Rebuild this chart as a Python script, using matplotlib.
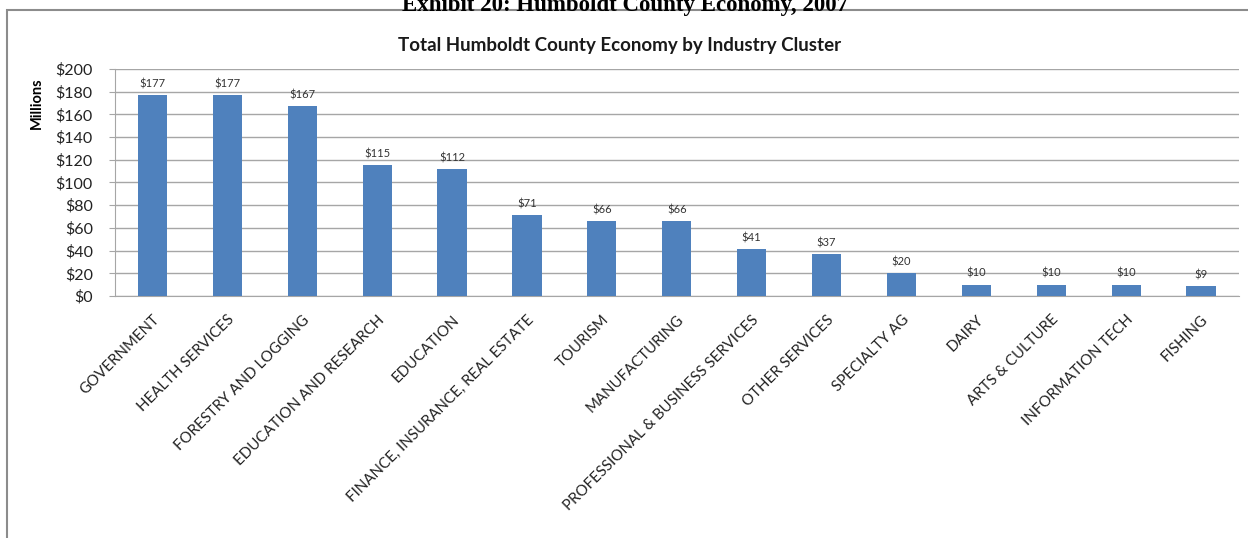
import numpy as np
import matplotlib.pyplot as plt
from matplotlib.patches import Rectangle

# industry clusters and their size (millions of dollars)
clusters = ['GOVERNMENT', 'HEALTH SERVICES', 'FORESTRY AND LOGGING',
            'EDUCATION AND RESEARCH', 'EDUCATION',
            'FINANCE, INSURANCE, REAL ESTATE', 'TOURISM', 'MANUFACTURING',
            'PROFESSIONAL & BUSINESS SERVICES', 'OTHER SERVICES',
            'SPECIALTY AG', 'DAIRY', 'ARTS & CULTURE', 'INFORMATION TECH',
            'FISHING']
values = [177, 177, 167, 115, 112, 71, 66, 66, 41, 37, 20, 10, 10, 10, 9]
yticks = [0, 20, 40, 60, 80, 100, 120, 140, 160, 180, 200]

W, H = 1248, 538
fig = plt.figure(figsize=(W/100, H/100), dpi=100)

# frame round the chart
fig.patches.append(Rectangle((7/W, -0.05), 1.2, 1 - 10/H + 0.05,
                             transform=fig.transFigure, fill=False,
                             edgecolor='#8c8c8c', linewidth=1.5))

# outer title, cut off at the top like in the scan
fig.text(625/W, 1 - 11/H, 'Exhibit 20: Humboldt County Economy, 2007',
         family='Liberation Serif', fontweight='bold', fontsize=16.5,
         ha='center', va='baseline')
fig.text(620/W, 1 - 45/H, 'Total Humboldt County Economy by Industry Cluster',
         family='Lato', fontweight='bold', fontsize=13.5, ha='center',
         va='center', color='#1a1a1a')
fig.text(37/W, 1 - 103/H, 'Millions', family='Lato', fontweight='bold',
         fontsize=10.5, rotation=90, ha='center', va='center')

ax = fig.add_axes([115/W, 1 - 296/H, (1238.5 - 115)/W, (296 - 69)/H])
x = np.arange(len(values))
ax.bar(x, values, width=0.39, color='#4f81bd', zorder=3)
for xi, v in zip(x, values):
    ax.text(xi, v + 5, '$%d' % v, ha='center', va='bottom', fontsize=8,
            family='Lato', color='#333333')

ax.set_xlim(-0.5, len(values) - 0.5)
ax.set_ylim(0, 200)
ax.set_yticks(yticks)
ax.set_yticklabels(['$%d' % t for t in yticks], family='Lato', fontsize=11.5,
                   color='#222222')
ax.yaxis.grid(True, color='#a6a6a6', linewidth=1, zorder=0)
ax.set_xticks(x)
ax.set_xticklabels(clusters, rotation=45, ha='right', va='top',
                   rotation_mode='anchor', family='Lato', fontsize=10.8,
                   color='#222222')
ax.tick_params(axis='x', length=0, pad=12)
ax.tick_params(axis='y', length=4, color='#a6a6a6', pad=12)
for s in ['top', 'right']:
    ax.spines[s].set_visible(False)
for s in ['left', 'bottom']:
    ax.spines[s].set_color('#a6a6a6')

plt.savefig('out.png', dpi=100)
